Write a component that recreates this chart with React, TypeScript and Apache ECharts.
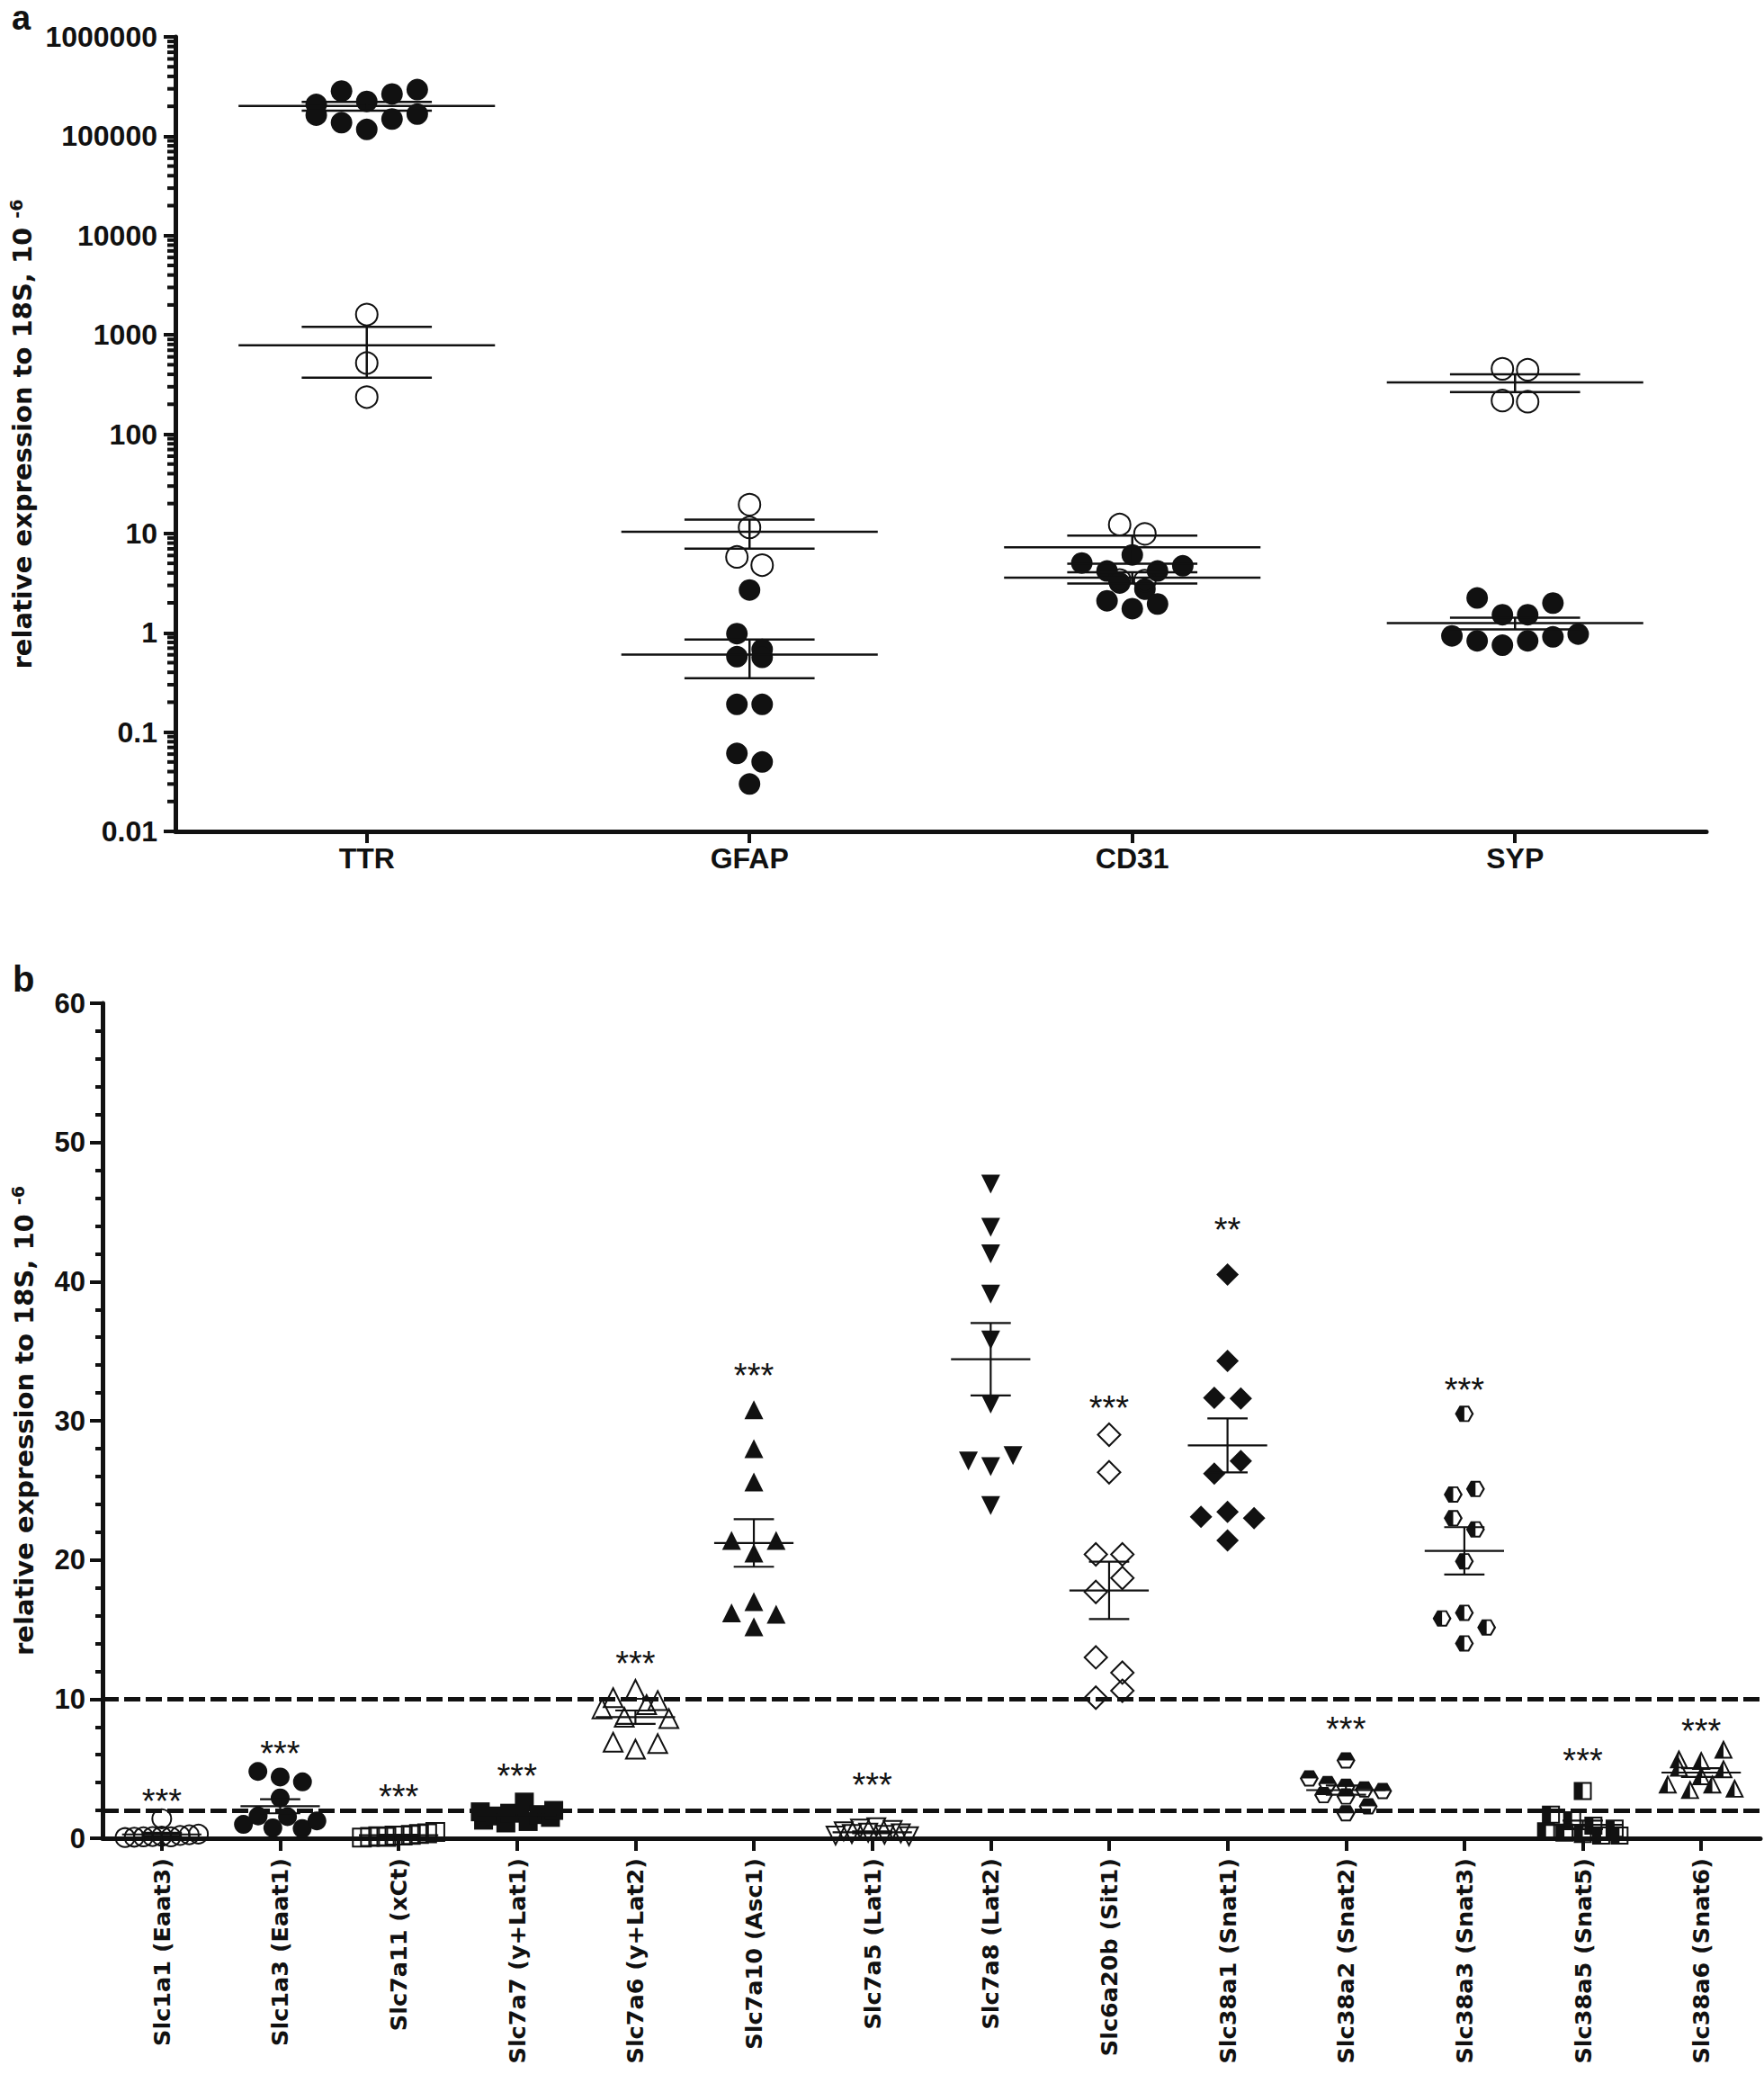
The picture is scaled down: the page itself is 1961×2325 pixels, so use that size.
import React, { useEffect, useRef } from "react";
import * as echarts from "echarts";

// ---------------- Panel a (log scale) ----------------
const categoriesA = ["TTR", "GFAP", "CD31", "SYP"];
const yTickLabelsA = ["0.01", "0.1", "1", "10", "100", "1000", "10000", "100000", "1000000"];
const ttrFilled = [209000, 285000, 224000, 266000, 295000, 163000, 137000, 117000, 149000, 167000];
const ttrOpen = [1600, 520, 236];
const gfapFilled = [2.7, 0.98, 0.68, 0.574, 0.566, 0.19, 0.19, 0.061, 0.05, 0.03];
const gfapOpen = [11.5, 19.5, 5.8, 4.8];
const cd31Filled = [5.04, 4.19, 6.08, 4.19, 4.72, 3.17, 2.75, 2.1, 1.75, 1.95];
const cd31Open = [12.3, 9.9, 3.4, 3.35];
const sypFilled = [2.24, 1.52, 1.52, 1.99, 0.93, 0.83, 0.75, 0.83, 0.91, 0.97];
const sypOpen = [455, 445, 218, 212];

// ---------------- Panel b (linear scale) ----------------
const categoriesB = [
  "Slc1a1 (Eaat3)", "Slc1a3 (Eaat1)", "Slc7a11 (xCt)", "Slc7a7 (y+Lat1)", "Slc7a6 (y+Lat2)",
  "Slc7a10 (Asc1)", "Slc7a5 (Lat1)", "Slc7a8 (Lat2)", "Slc6a20b (Sit1)", "Slc38a1 (Snat1)",
  "Slc38a2 (Snat2)", "Slc38a3 (Snat3)", "Slc38a5 (Snat5)", "Slc38a6 (Snat6)",
];
const slc1a1 = [1.4, 0.05, 0.08, 0.1, 0.12, 0.15, 0.1, 0.2, 0.25, 0.3];
const slc1a3 = [4.8, 4.4, 4.05, 2.9, 1.0, 1.6, 0.75, 1.55, 0.7, 1.25];
const slc7a11 = [0.05, 0.1, 0.15, 0.1, 0.2, 0.2, 0.25, 0.3, 0.35, 0.45];
const slc7a7 = [1.3, 1.9, 1.6, 1.1, 1.8, 2.6, 1.2, 1.7, 1.5, 2.0];
const slc7a6 = [10.1, 10.7, 9.9, 9.3, 8.7, 9.6, 8.6, 6.9, 6.4, 6.8];
const slc7a10 = [30.8, 28.0, 25.6, 21.4, 20.5, 21.4, 16.2, 17.0, 16.1, 15.2];
const slc7a5 = [0.2, 0.5, 0.3, 0.7, 0.4, 0.8, 0.25, 0.6, 0.35, 0.15];
const slc7a8 = [47.0, 43.9, 42.0, 39.1, 35.8, 31.2, 27.1, 26.7, 27.5, 23.9];
const slc6a20b = [29.0, 26.3, 20.4, 20.4, 17.7, 18.7, 13.0, 11.9, 10.1, 10.6];
const slc38a1 = [40.5, 34.3, 31.65, 31.6, 26.2, 27.1, 23.1, 23.45, 23.0, 21.4];
const slc38a2 = [5.6, 4.3, 3.9, 3.7, 3.5, 3.4, 3.1, 3.0, 2.3, 1.8];
const slc38a3 = [30.5, 24.7, 25.1, 23.0, 22.2, 19.9, 15.8, 16.2, 15.15, 14.0];
const slc38a5 = [3.4, 1.7, 1.3, 0.9, 0.7, 0.5, 0.4, 0.3, 0.2, 0.2];
const slc38a6 = [5.7, 5.6, 6.4, 5.1, 4.5, 5.0, 3.9, 3.5, 3.9, 3.6];
const sigLabels = ["***", "***", "***", "***", "***", "***", "***", "", "***", "**", "***", "***", "***", "***"];
const sigY = [3.2, 6.6, 3.5, 5.0, 13.05, 33.75, 4.3, 0, 31.4, 44.2, 8.35, 32.7, 6.05, 8.2];
const thresholdLines = [10, 2];

// ---------------- styling ----------------
const INK = "#111";
const FONT = "'Liberation Sans', Arial, Helvetica, sans-serif";
const WIDE = "'DejaVu Sans', Verdana, sans-serif";
const gridA = { left: 180, top: 41, width: 1717, height: 883 };
const gridB = { left: 114, top: 1115, width: 1843, height: 928 };

const HEX_TOP =
  "path://M0 50 L25 7 L75 7 L100 50 L75 93 L25 93 Z M12 50 L31 84 L69 84 L88 50 L69 16 L31 16 Z M0 50 L25 7 L75 7 L100 50 Z";
const HEX_LEFT =
  "path://M0 50 L25 7 L75 7 L100 50 L75 93 L25 93 Z M12 50 L31 84 L69 84 L88 50 L69 16 L31 16 Z M50 7 L50 93 L25 93 L0 50 L25 7 Z";
const SQ_LEFT =
  "path://M0 0 L100 0 L100 100 L0 100 Z M10 10 L10 90 L90 90 L90 10 Z M0 0 L50 0 L50 100 L0 100 Z";
const TRI_LEFT =
  "path://M50 0 L100 100 L0 100 Z M50 21 L15 91 L85 91 Z M50 0 L50 100 L0 100 Z";

type Marker = { symbol: string; size: number | number[]; open?: boolean; rotate?: number };

const markersB: Marker[] = [
  { symbol: "circle", size: 21, open: true },
  { symbol: "circle", size: 21 },
  { symbol: "rect", size: 20, open: true },
  { symbol: "rect", size: 21 },
  { symbol: "triangle", size: 21, open: true },
  { symbol: "triangle", size: 21 },
  { symbol: "triangle", size: 20, open: true, rotate: 180 },
  { symbol: "triangle", size: 21, rotate: 180 },
  { symbol: "diamond", size: 25, open: true },
  { symbol: "diamond", size: 25 },
  { symbol: HEX_TOP, size: [21, 18] },
  { symbol: HEX_LEFT, size: [21, 18] },
  { symbol: SQ_LEFT, size: 20 },
  { symbol: TRI_LEFT, size: 21 },
];

function mean(a: number[]) {
  return a.reduce((s, v) => s + v, 0) / a.length;
}
function sem(a: number[]) {
  const m = mean(a);
  const v = a.reduce((s, x) => s + (x - m) * (x - m), 0) / (a.length - 1);
  return Math.sqrt(v) / Math.sqrt(a.length);
}

// Prism-like column scatter: rows of nearby points, centred within the column
function swarm(values: number[], toPx: (v: number) => number, band: number, size: number): number[] {
  const order = values.map((_, i) => i).sort((a, b) => toPx(values[a]) - toPx(values[b]));
  const rows: number[][] = [];
  let row: number[] = [];
  let y0 = 0;
  order.forEach((i) => {
    const y = toPx(values[i]);
    if (row.length && y - y0 < size * 0.8) row.push(i);
    else {
      if (row.length) rows.push(row);
      row = [i];
      y0 = y;
    }
  });
  if (row.length) rows.push(row);
  const off = values.map(() => 0);
  rows.forEach((r) => {
    r.sort((a, b) => a - b);
    const n = r.length;
    const step = n > 1 ? Math.min(size * 1.18, (band * 0.62) / (n - 1)) : 0;
    r.forEach((i, j) => {
      off[i] = ((j - (n - 1) / 2) * step) / band;
    });
  });
  return off;
}

function errRender(lineW: number) {
  return (_params: any, api: any) => {
    const x = api.value(0);
    const m = api.value(1);
    const lo = api.value(2);
    const hi = api.value(3);
    const pm = api.coord([x, m]);
    const band = api.coord([x + 0.5, m])[0] - api.coord([x - 0.5, m])[0];
    const pl = api.coord([x, lo]);
    const ph = api.coord([x, hi]);
    const half = band * 0.335;
    const cap = band * 0.17;
    const style = { stroke: INK, lineWidth: lineW, fill: null };
    return {
      type: "group",
      children: [
        { type: "line", shape: { x1: pm[0] - half, y1: pm[1], x2: pm[0] + half, y2: pm[1] }, style },
        { type: "line", shape: { x1: pl[0], y1: pl[1], x2: ph[0], y2: ph[1] }, style },
        { type: "line", shape: { x1: pl[0] - cap, y1: pl[1], x2: pl[0] + cap, y2: pl[1] }, style },
        { type: "line", shape: { x1: ph[0] - cap, y1: ph[1], x2: ph[0] + cap, y2: ph[1] }, style },
      ],
    };
  };
}

function itemStyleFor(m: Marker) {
  if (m.open) return { color: "rgba(0,0,0,0)", borderColor: INK, borderWidth: 2, opacity: 1 };
  return { color: INK, borderWidth: 0, opacity: 1 };
}

function buildOption() {
  const bandA = gridA.width / categoriesA.length;
  const bandB = gridB.width / categoriesB.length;
  const pxDecade = gridA.height / 8;
  const pxUnitB = gridB.height / 60;
  const toPxA = (v: number) => -Math.log10(v) * pxDecade;
  const toPxB = (v: number) => -v * pxUnitB;

  const groupsA = [
    { cat: 0, values: ttrFilled, open: false },
    { cat: 0, values: ttrOpen, open: true },
    { cat: 1, values: gfapFilled, open: false },
    { cat: 1, values: gfapOpen, open: true },
    { cat: 2, values: cd31Filled, open: false },
    { cat: 2, values: cd31Open, open: true },
    { cat: 3, values: sypFilled, open: false },
    { cat: 3, values: sypOpen, open: true },
  ];
  const groupsB = [
    slc1a1, slc1a3, slc7a11, slc7a7, slc7a6, slc7a10, slc7a5,
    slc7a8, slc6a20b, slc38a1, slc38a2, slc38a3, slc38a5, slc38a6,
  ];

  const series: any[] = [];

  groupsA.forEach((g) => {
    const off = swarm(g.values, toPxA, bandA, 24);
    series.push({
      type: "scatter",
      xAxisIndex: 1,
      yAxisIndex: 0,
      silent: true,
      z: 2,
      symbol: "circle",
      symbolSize: 24,
      itemStyle: itemStyleFor({ symbol: "circle", size: 24, open: g.open }),
      data: g.values.map((v, i) => [g.cat + off[i], v]),
    });
  });

  series.push({
    type: "custom",
    xAxisIndex: 1,
    yAxisIndex: 0,
    silent: true,
    z: 3,
    clip: false,
    renderItem: errRender(2.5),
    encode: { x: 0, y: 1 },
    data: groupsA.map((g) => {
      const m = mean(g.values);
      const s = sem(g.values);
      return [g.cat, m, m - s, m + s];
    }),
  });

  // log-axis minor ticks (2..9 of each decade)
  const minorA: number[] = [];
  for (let d = -2; d <= 5; d++) for (let k = 2; k <= 9; k++) minorA.push(k * Math.pow(10, d));
  series.push({
    type: "custom",
    xAxisIndex: 1,
    yAxisIndex: 0,
    silent: true,
    clip: false,
    z: 5,
    encode: { x: 0, y: 1 },
    renderItem: (_p: any, api: any) => {
      const p = api.coord([api.value(0), api.value(1)]);
      return {
        type: "line",
        shape: { x1: p[0] - 9, y1: p[1], x2: p[0], y2: p[1] },
        style: { stroke: INK, lineWidth: 4 },
      };
    },
    data: minorA.map((v) => [-0.5, v]),
  });

  groupsB.forEach((vals, ci) => {
    const mk = markersB[ci];
    const sz = Array.isArray(mk.size) ? Math.max(...mk.size) : mk.size;
    const off = swarm(vals, toPxB, bandB, sz);
    series.push({
      type: "scatter",
      xAxisIndex: 3,
      yAxisIndex: 1,
      silent: true,
      z: 2,
      symbol: mk.symbol,
      symbolSize: mk.size,
      symbolRotate: mk.rotate || 0,
      itemStyle: itemStyleFor(mk),
      data: vals.map((v, i) => [ci + off[i], v]),
    });
  });

  series.push({
    type: "custom",
    xAxisIndex: 3,
    yAxisIndex: 1,
    silent: true,
    z: 3,
    clip: false,
    renderItem: errRender(2.2),
    encode: { x: 0, y: 1 },
    data: groupsB.map((vals, ci) => {
      const m = mean(vals);
      const s = sem(vals);
      return [ci, m, m - s, m + s];
    }),
  });

  const sigData = sigY
    .map((y, i) => ({ value: [i, y], text: sigLabels[i] }))
    .filter((d) => d.text !== "");

  series.push({
    type: "scatter",
    xAxisIndex: 3,
    yAxisIndex: 1,
    silent: true,
    z: 4,
    symbolSize: 1,
    itemStyle: { color: "rgba(0,0,0,0)", opacity: 1 },
    label: {
      show: true,
      position: "inside",
      fontSize: 38,
      fontFamily: FONT,
      color: INK,
      opacity: 1,
      offset: [0, 8],
      formatter: (p: any) => sigData[p.dataIndex].text,
    },
    data: sigData.map((d) => ({ value: d.value })),
    markLine: {
      silent: true,
      symbol: ["none", "none"],
      label: { show: false },
      emphasis: { disabled: true },
      lineStyle: { type: [18, 6], width: 5, color: INK, opacity: 1 },
      data: thresholdLines.map((v) => ({ yAxis: v })),
    },
  });

  const axisLine = { show: true, onZero: false, lineStyle: { color: INK, width: 5 } };
  const nameStyle = {
    fontFamily: WIDE,
    fontWeight: "bold",
    fontSize: 29,
    color: INK,
    rich: {
      sup: { fontFamily: WIDE, fontWeight: "bold", fontSize: 19, color: INK, verticalAlign: "top", lineHeight: 34 },
    },
  };
  const yName = "relative expression to 18S, 10 {sup|-6}";

  return {
    animation: false,
    backgroundColor: "#fff",
    textStyle: { fontFamily: FONT },
    graphic: [
      { type: "text", left: 13, top: 1, style: { text: "a", font: `bold 38px ${FONT}`, fill: INK } },
      { type: "text", left: 14, top: 1068, style: { text: "b", font: `bold 40px ${FONT}`, fill: INK } },
    ],
    grid: [
      { ...gridA, containLabel: false },
      { ...gridB, containLabel: false },
    ],
    xAxis: [
      {
        type: "category",
        gridIndex: 0,
        data: categoriesA,
        axisLine,
        axisTick: { show: true, alignWithLabel: true, length: 13, lineStyle: { color: INK, width: 4 } },
        axisLabel: { interval: 0, fontSize: 32, fontWeight: "bold", color: INK, margin: 14, fontFamily: FONT },
        splitLine: { show: false },
      },
      { type: "value", gridIndex: 0, min: -0.5, max: categoriesA.length - 0.5, show: false },
      {
        type: "category",
        gridIndex: 1,
        data: categoriesB,
        axisLine,
        axisTick: { show: true, alignWithLabel: true, length: 14, lineStyle: { color: INK, width: 4 } },
        axisLabel: {
          interval: 0,
          rotate: 90,
          fontSize: 25.5,
          fontWeight: "bold",
          color: INK,
          margin: 22,
          fontFamily: WIDE,
        },
        splitLine: { show: false },
      },
      { type: "value", gridIndex: 1, min: -0.5, max: categoriesB.length - 0.5, show: false },
    ],
    yAxis: [
      {
        type: "log",
        gridIndex: 0,
        logBase: 10,
        min: 0.01,
        max: 1000000,
        splitNumber: 8,
        axisLine,
        axisTick: { show: true, length: 13, lineStyle: { color: INK, width: 4 } },
        axisLabel: {
          fontSize: 32,
          fontWeight: "bold",
          color: INK,
          margin: 20,
          fontFamily: FONT,
          formatter: (v: number) => yTickLabelsA[Math.round(Math.log10(v)) + 2] ?? "",
        },
        splitLine: { show: false },
        name: yName,
        nameLocation: "middle",
        nameRotate: 90,
        nameGap: 135,
        nameTextStyle: nameStyle,
      },
      {
        type: "value",
        gridIndex: 1,
        min: 0,
        max: 60,
        interval: 10,
        axisLine,
        axisTick: { show: true, length: 14, lineStyle: { color: INK, width: 4 } },
        minorTick: { show: true, splitNumber: 5, length: 8, lineStyle: { color: INK, width: 4 } },
        minorSplitLine: { show: false },
        axisLabel: { fontSize: 31, fontWeight: "bold", color: INK, margin: 19, fontFamily: FONT },
        splitLine: { show: false },
        name: yName,
        nameLocation: "middle",
        nameRotate: 90,
        nameGap: 70,
        nameTextStyle: nameStyle,
      },
    ],
    series,
  };
}

export default function App() {
  const ref = useRef<HTMLDivElement>(null);
  useEffect(() => {
    if (!ref.current) return;
    const chart = echarts.init(ref.current, null, { renderer: "svg" });
    chart.setOption(buildOption() as any);
    return () => chart.dispose();
  }, []);
  return (
    <div
      ref={ref}
      style={{ position: "absolute", left: 0, top: 0, width: 1961, height: 2325, background: "#fff" }}
    />
  );
}
